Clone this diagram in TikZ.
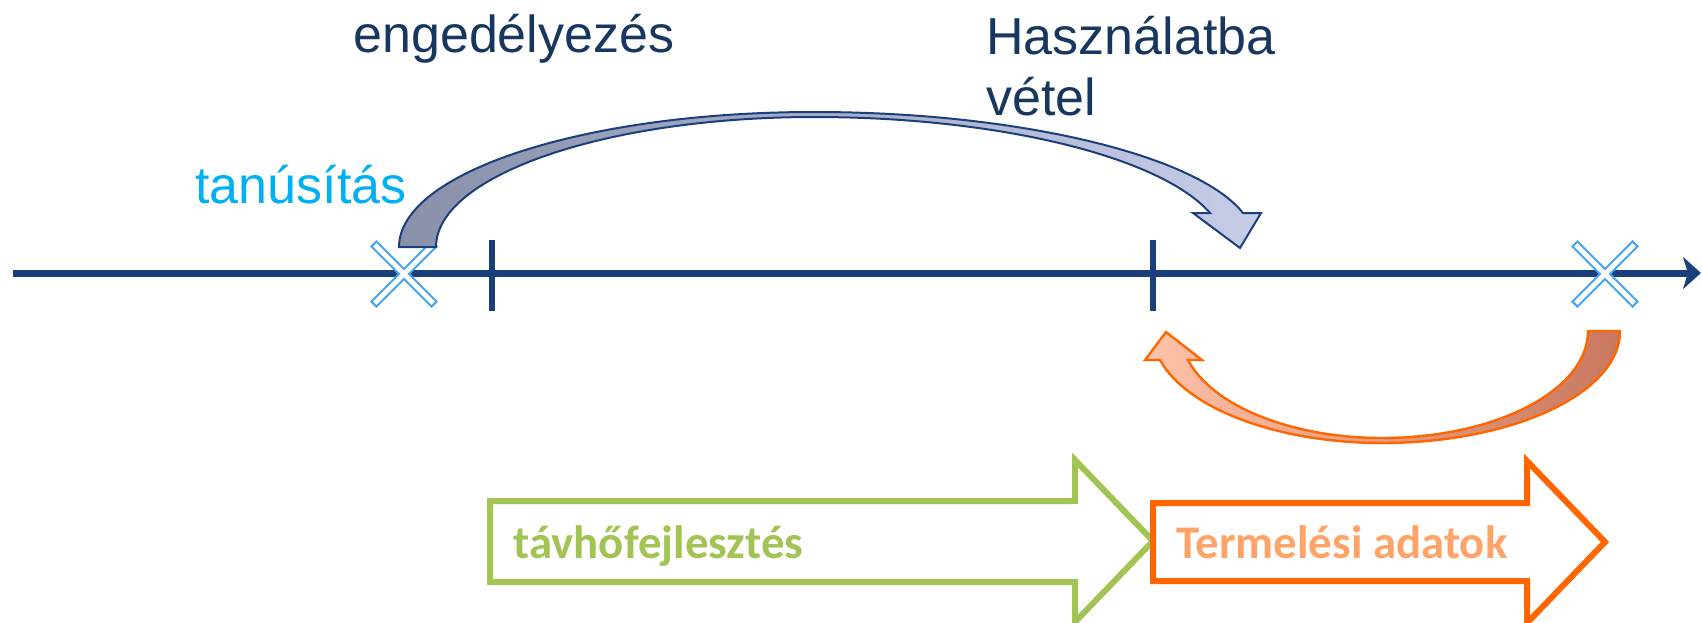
\documentclass[tikz,border=0pt]{standalone}
\usepackage{fontspec}
\setmainfont{Liberation Sans}
\newfontfamily\calibri{Carlito}
\usetikzlibrary{arrows.meta}
\definecolor{navy}{HTML}{17375E}
\definecolor{axisblue}{HTML}{1B3F7A}
\definecolor{xblue}{HTML}{45A5F5}
\definecolor{cyantext}{HTML}{00B0F0}
\definecolor{greenA}{HTML}{A2C455}
\definecolor{orangeA}{HTML}{FF6600}
\definecolor{orangeT}{HTML}{FFA468}
\definecolor{blueL}{HTML}{8890AA}
\definecolor{blueR}{HTML}{C7CDE8}
\definecolor{oraL}{HTML}{FFC2A8}
\definecolor{oraR}{HTML}{C8785E}
\tikzset{
  bigtext/.style={inner sep=0pt, anchor=base west, font=\fontsize{26}{31}\selectfont},
  boldtext/.style={inner sep=0pt, anchor=base west, font=\calibri\bfseries\fontsize{23.4}{28}\selectfont},
  axisline/.style={draw=axisblue, line width=3.5pt, -{Stealth[length=9pt,width=16pt,inset=2.5pt]}},
  tickline/.style={draw=axisblue, line width=3pt},
  xmark/.pic={
    \draw[xblue, fill=white, line width=1pt, rotate=45]
      (3.5,3.5) -- (42.5,3.5) -- (42.5,-3.5) -- (3.5,-3.5) -- (3.5,-42.5) -- (-3.5,-42.5)
      -- (-3.5,-3.5) -- (-42.5,-3.5) -- (-42.5,3.5) -- (-3.5,3.5) -- (-3.5,42.5) -- (3.5,42.5) -- cycle;
  },
  blueshape/.style={draw=axisblue, line width=1pt, left color=blueL, right color=blueR},
  orangeshape/.style={draw=orangeA, line width=1.2pt, left color=oraL, right color=oraR},
  greenblock/.style={draw=greenA, line width=3pt, fill=white},
  orangeblock/.style={draw=orangeA, line width=3pt, fill=white},
}
\begin{document}
\begin{tikzpicture}[x=0.5pt,y=-0.5pt]
\useasboundingbox (0,0) rectangle (1702,622);
% axis
\coordinate (axL) at (13,273);
\coordinate (axR) at (1701,273);
\draw[axisline] (axL) -- (axR);
\draw[tickline] (492,240) -- (492,311);
\draw[tickline] (1153,240) -- (1153,311);
\pic at (404,274) {xmark};
\pic at (1605,274) {xmark};
% blue curved arrow
\draw[blueshape] (399,247)
 .. controls (399,172.4) and (584.8,112) .. (814,112)
 .. controls (1019.5,112) and (1197.5,155.6) .. (1243,213)
 -- (1261,213) -- (1240,248) -- (1193,213) -- (1210,213)
 .. controls (1161.2,156.9) and (998.9,117) .. (814,117)
 .. controls (605.2,117) and (436,175.8) .. (436,247)
 -- cycle;
% orange curved arrow
\draw[orangeshape] (1620,331)
 .. controls (1620,392.9) and (1513.4,443) .. (1382,443)
 .. controls (1278,443) and (1187,409) .. (1160,360)
 -- (1145,360) -- (1166,332) -- (1202,360) -- (1188,360)
 .. controls (1212.3,406.1) and (1291.6,438) .. (1382,438)
 .. controls (1495.8,438) and (1588,390.1) .. (1588,331)
 -- cycle;
% block arrows
\draw[greenblock] (490,501) -- (1075,501) -- (1075,460) -- (1153,541) -- (1075,622) -- (1075,582) -- (490,582) -- cycle;
\draw[orangeblock] (1153,503) -- (1527,503) -- (1527,461) -- (1605,542) -- (1527,623) -- (1527,581) -- (1153,581) -- cycle;
% texts
\node[bigtext, text=navy] (eng) at (353,52) {engedélyezés};
\node[bigtext, text=cyantext] (tan) at (195,203) {tanúsítás};
\node[bigtext, text=navy] (has) at (986,54) {Használatba};
\node[bigtext, text=navy] (vet) at (986,115) {vétel};
\node[boldtext, text=greenA] (tav) at (513,558) {távhőfejlesztés};
\node[boldtext, text=orangeT] (ter) at (1176,558) {Termelési adatok};
\end{tikzpicture}
\end{document}
